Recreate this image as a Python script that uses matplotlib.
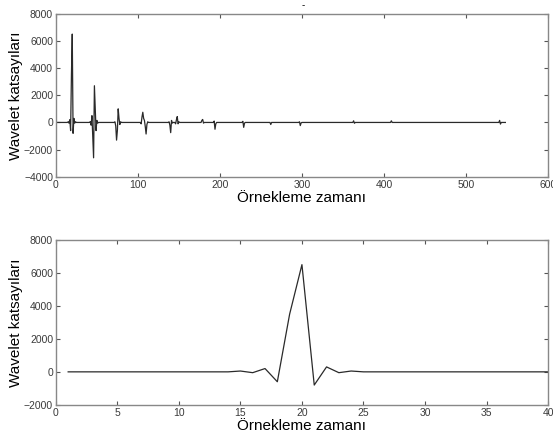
import numpy as np
import matplotlib
matplotlib.use('Agg')
from matplotlib import pyplot as plt

# detail coefficients, 548 samples, 1-based sample index (zero except around bursts)
n_samples = 548
burst_idx = [15, 16, 17, 18, 19, 20, 21, 22, 23, 24,
             42, 43, 44, 45, 46, 47, 48, 49, 50, 51,
             72, 73, 74, 75, 76, 77, 78, 79,
             104, 105, 106, 107, 108, 109, 110, 111, 112,
             138, 139, 140, 141, 142,
             146, 147, 148, 149, 150,
             178, 179, 180,
             193, 194, 195,
             228, 229, 230,
             262,
             297, 298, 299,
             363, 364,
             409,
             541, 542]
burst_val = [50, -50, 200, -600, 3500, 6500, -800, 300, -50, 50,
             60, -200, 500, -1100, -2600, 2700, 950, -600, 150, -50,
             50, -250, -1300, -600, 1000, 300, -150, 50,
             -100, 400, 750, 300, 150, -300, -850, -150, 50,
             50, -200, -750, 150, -50,
             -100, 200, 430, -100, 50,
             150, 220, -50,
             100, -500, -100,
             80, -360, -50,
             -150,
             50, -230, -30,
             120, -60,
             120,
             150, -120]

zoom_end = 40

samples = np.arange(1, n_samples + 1)
coef = np.zeros(n_samples)
coef[np.array(burst_idx) - 1] = burst_val

plt.rcParams['font.family'] = ['Liberation Sans', 'DejaVu Sans']

fig = plt.figure(figsize=(5.53, 4.41), dpi=100)
ax1 = fig.add_axes([0.101, 0.599, 0.890, 0.370])
ax2 = fig.add_axes([0.101, 0.082, 0.890, 0.374])

ax1.plot(samples, coef, color='#2a2a2a', lw=0.9)
ax1.set_xlim(0, 600)
ax1.set_ylim(-4000, 8000)
ax1.set_xticks(np.arange(0, 601, 100))
ax1.set_yticks(np.arange(-4000, 8001, 2000))

ax2.plot(samples[:zoom_end], coef[:zoom_end], color='#2a2a2a', lw=0.9)
ax2.set_xlim(0, 40)
ax2.set_ylim(-2000, 8000)
ax2.set_xticks(np.arange(0, 41, 5))
ax2.set_yticks(np.arange(-2000, 8001, 2000))

for ax in (ax1, ax2):
    ax.tick_params(direction='in', top=True, right=True, length=3, width=0.8,
                   color='#555555', labelsize=7.5, labelcolor='#3a3a3a', pad=2)
    for s in ax.spines.values():
        s.set_color('#888888')
        s.set_linewidth(1.0)
    ax.set_xlabel('Örnekleme zamanı', fontsize=11, labelpad=1)
    ax.set_ylabel('Wavelet katsayıları', fontsize=11, labelpad=1)

fig.text(303 / 553, 1 - 5 / 441, '-', fontsize=7, ha='center', va='center')

fig.savefig('out.png', dpi=100)
